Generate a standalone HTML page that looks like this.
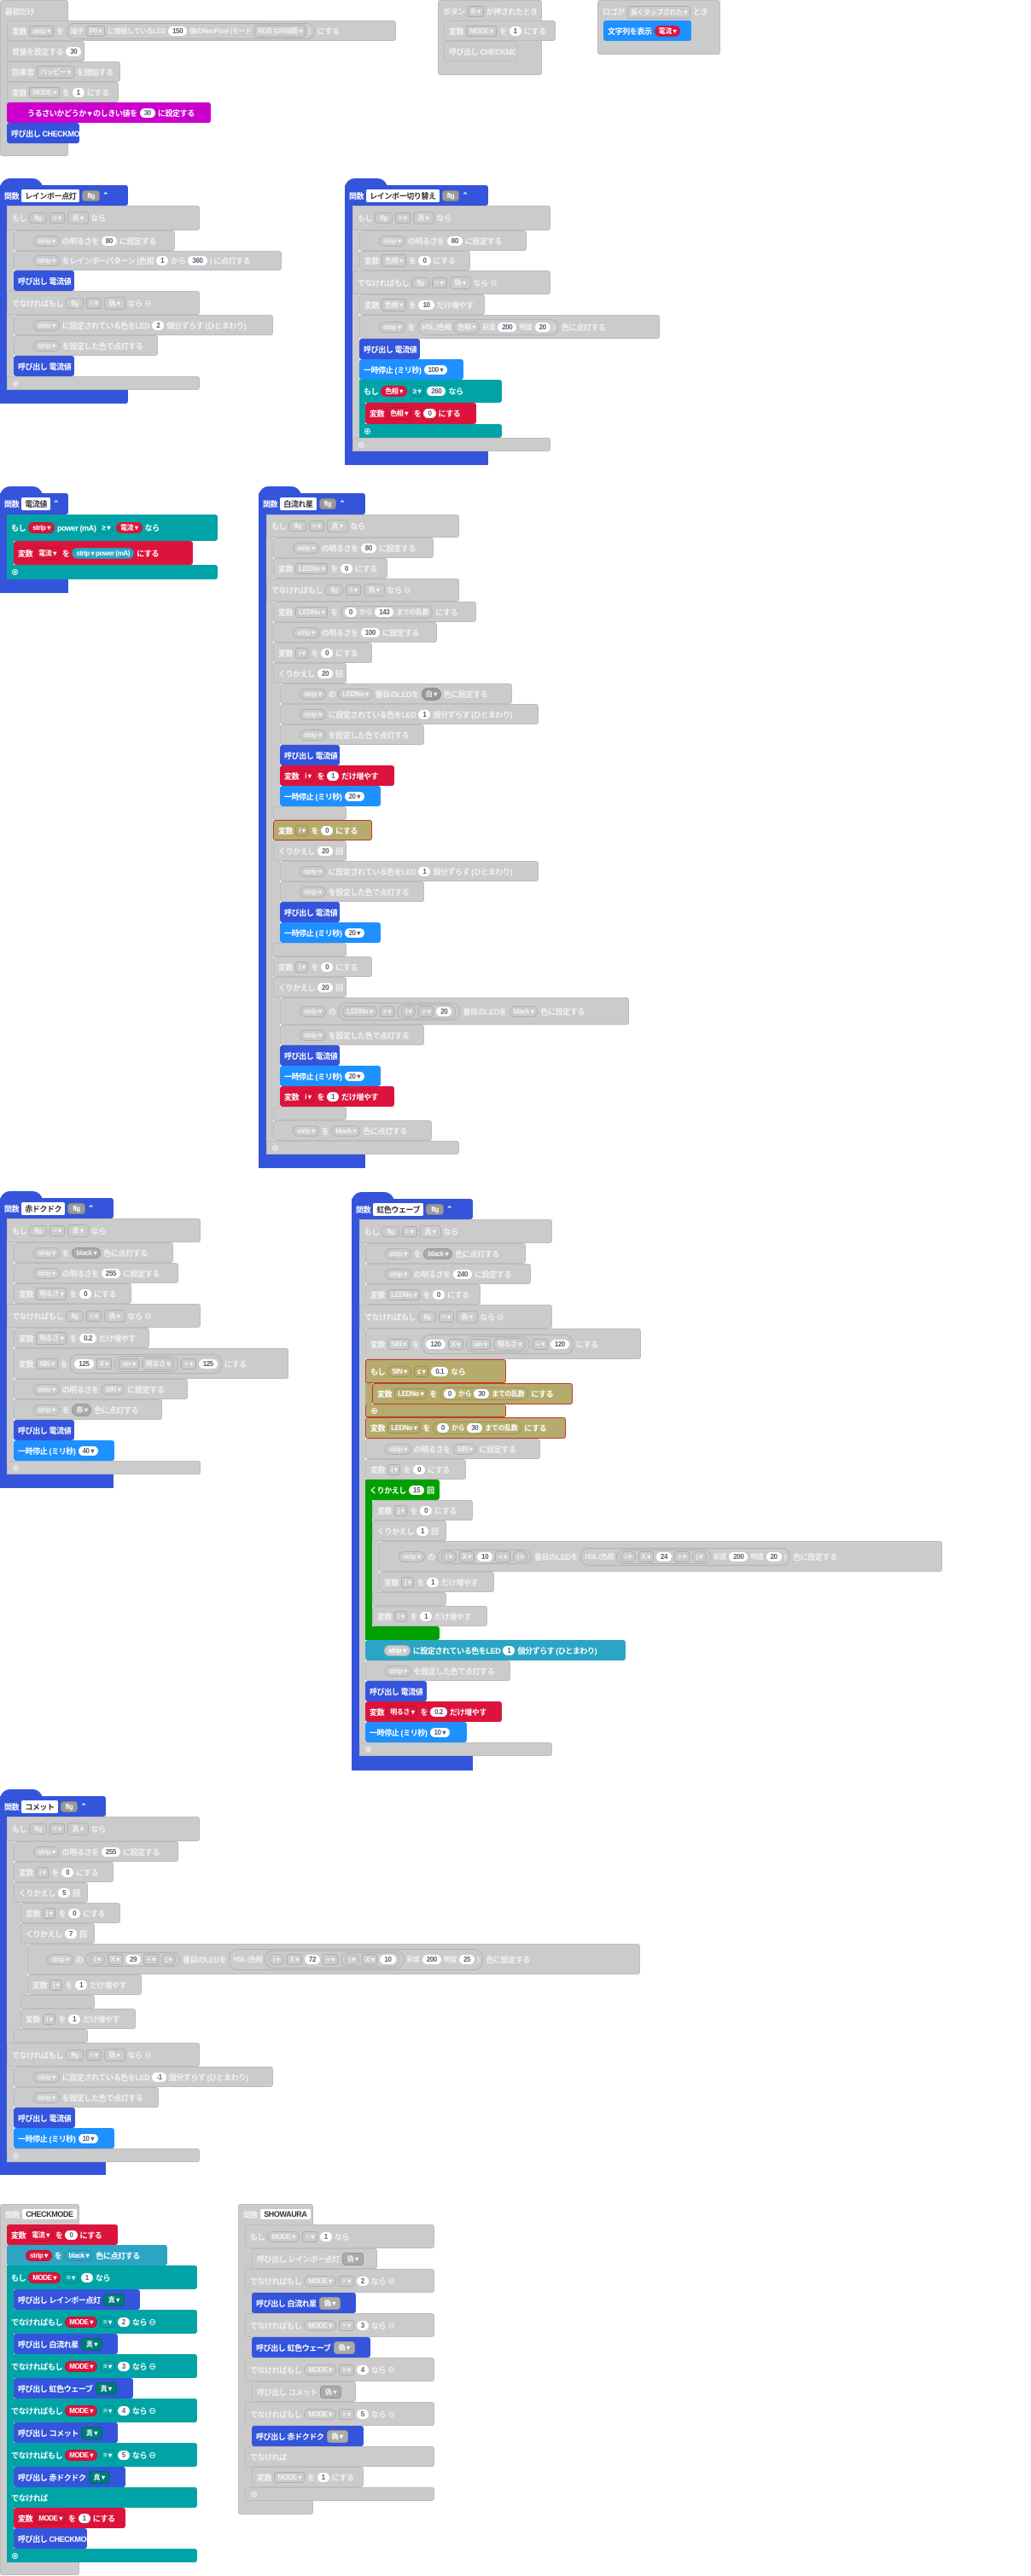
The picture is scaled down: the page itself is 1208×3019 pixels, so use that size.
<!DOCTYPE html>
<html><head><meta charset="utf-8"><style>
html,body{margin:0;padding:0;background:#fff;width:1208px;height:3019px;position:relative;overflow:hidden}
.b{position:absolute;box-sizing:border-box;font:bold 9px "Liberation Sans","Noto Sans CJK JP",sans-serif;letter-spacing:-0.4px;color:#fff;padding-left:5px;display:flex;align-items:center;white-space:nowrap;overflow:hidden;gap:3px;border-radius:3px}
.g{background:#cbcbcb;color:#f2f2f2;border:1px solid #bcbcbc}
.bl{background:#3455db}
.lb{background:#1e90ff}
.r{background:#dc143c}
.t{background:#00a4a6}
.nb{background:#2ca5c4}
.m{background:#cc00cc}
.gr{background:#00a000}
.ol{background:#b6ab6c;border:1px solid #c0392b}
.s{position:absolute;box-sizing:border-box}
.w{background:#fff;color:#575e75;border-radius:9px;padding:1px 5px;font-size:8px}
.d{border:1px solid rgba(0,0,0,.15);border-radius:3px;padding:1px 3px;font-size:8px}
.o{border:1px solid rgba(0,0,0,.12);border-radius:10px;padding:1px 4px;font-size:8px;display:inline-flex;gap:3px;align-items:center}
.hx{border:1px solid rgba(0,0,0,.12);padding:1px 5px;font-size:8px;border-radius:4px}
.hd{background:#fff;color:#333;padding:1px 4px;font-size:9px;border-radius:2px}
.hump{position:absolute;background:#3455db;border-radius:30px 30px 0 0}
</style></head><body>

<!-- Block A -->
<div class="b g" style="left:0;top:0;width:80px;height:183px;align-items:flex-start;padding-top:6px">最初だけ</div>
<div class="b g" style="left:8px;top:24px;width:456px;height:24px">変数 <span class="d">strip ▾</span> を <span class="o">端子 <span class="d">P0 ▾</span> に接続しているLED <span class="w">150</span> 個のNeoPixel (モード <span class="d">RGB (GRB順) ▾</span> )</span> にする</div>
<div class="b g" style="left:8px;top:48px;width:91px;height:24px">音量を設定する <span class="w">30</span></div>
<div class="b g" style="left:8px;top:72px;width:133px;height:24px">効果音 <span class="d">ハッピー ▾</span> を開始する</div>
<div class="b g" style="left:8px;top:96px;width:131px;height:24px">変数 <span class="d">MODE ▾</span> を <span class="w">1</span> にする</div>
<div class="b m" style="left:8px;top:120px;width:239px;height:24px;padding-left:24px">うるさいかどうか ▾ のしきい値を <span class="w">30</span> に設定する</div>
<div class="b bl" style="left:8px;top:144px;width:85px;height:24px">呼び出し CHECKMODE</div>

<!-- Block B -->
<div class="b g" style="left:513px;top:0;width:122px;height:88px;align-items:flex-start;padding-top:6px">ボタン <span class="d">B ▾</span> が押されたとき</div>
<div class="b g" style="left:520px;top:24px;width:131px;height:24px">変数 <span class="d">MODE ▾</span> を <span class="w">1</span> にする</div>
<div class="b g" style="left:520px;top:48px;width:86px;height:24px">呼び出し CHECKMODE</div>

<!-- Block C -->
<div class="b g" style="left:700px;top:0;width:144px;height:64px;align-items:flex-start;padding-top:6px">ロゴが <span class="d">長くタップされた ▾</span> とき</div>
<div class="b lb" style="left:707px;top:24px;width:103px;height:24px">文字列を表示 <span class="w" style="background:#dc143c;color:#fff">電流 ▾</span></div>

<!-- Block D レインボー点灯 -->
<div class="hump" style="left:0;top:209px;width:50px;height:12px"></div>
<div class="s bl" style="left:0;top:217px;width:8px;height:256px"></div>
<div class="s g" style="left:8px;top:241px;width:8px;height:216px;border:0"></div>
<div class="b bl" style="left:0;top:217px;width:150px;height:24px">関数 <span class="hd">レインボー点灯</span> <span class="hx" style="background:#999">flg</span> ⌃</div>
<div class="b g" style="left:8px;top:241px;width:226px;height:29px">もし <span class="hx">flg</span> <span class="d">= ▾</span> <span class="hx">真 ▾</span> なら</div>
<div class="b g" style="left:16px;top:270px;width:189px;height:24px;padding-left:22px"><span class="o">strip ▾</span> の明るさを <span class="w">80</span> に設定する</div>
<div class="b g" style="left:16px;top:294px;width:314px;height:23px;padding-left:22px"><span class="o">strip ▾</span> をレインボーパターン (色相 <span class="w">1</span> から <span class="w">360</span> ) に点灯する</div>
<div class="b bl" style="left:16px;top:317px;width:71px;height:24px">呼び出し 電流値</div>
<div class="b g" style="left:8px;top:341px;width:226px;height:28px">でなければもし <span class="hx">flg</span> <span class="d">= ▾</span> <span class="hx">偽 ▾</span> なら ⊖</div>
<div class="b g" style="left:16px;top:369px;width:304px;height:24px;padding-left:22px"><span class="o">strip ▾</span> に設定されている色をLED <span class="w">2</span> 個分ずらす (ひとまわり)</div>
<div class="b g" style="left:16px;top:393px;width:169px;height:24px;padding-left:22px"><span class="o">strip ▾</span> を設定した色で点灯する</div>
<div class="b bl" style="left:16px;top:417px;width:71px;height:24px">呼び出し 電流値</div>
<div class="b g" style="left:8px;top:441px;width:226px;height:16px">⊕</div>
<div class="s bl" style="left:0;top:457px;width:150px;height:16px;border-radius:0 0 3px 3px"></div>

<!-- Block E レインボー切り替え -->
<div class="hump" style="left:404px;top:209px;width:50px;height:12px"></div>
<div class="s bl" style="left:404px;top:217px;width:9px;height:328px"></div>
<div class="s g" style="left:413px;top:241px;width:8px;height:288px;border:0"></div>
<div class="s t" style="left:421px;top:445px;width:7px;height:68px"></div>
<div class="b bl" style="left:404px;top:217px;width:168px;height:24px">関数 <span class="hd">レインボー切り替え</span> <span class="hx" style="background:#999">flg</span> ⌃</div>
<div class="b g" style="left:413px;top:241px;width:232px;height:29px">もし <span class="hx">flg</span> <span class="d">= ▾</span> <span class="hx">真 ▾</span> なら</div>
<div class="b g" style="left:421px;top:270px;width:196px;height:24px;padding-left:22px"><span class="o">strip ▾</span> の明るさを <span class="w">80</span> に設定する</div>
<div class="b g" style="left:421px;top:294px;width:130px;height:23px">変数 <span class="d">色相 ▾</span> を <span class="w">0</span> にする</div>
<div class="b g" style="left:413px;top:317px;width:232px;height:28px">でなければもし <span class="hx">flg</span> <span class="d">= ▾</span> <span class="hx">偽 ▾</span> なら ⊖</div>
<div class="b g" style="left:421px;top:345px;width:147px;height:24px">変数 <span class="d">色相 ▾</span> を <span class="w">10</span> だけ増やす</div>
<div class="b g" style="left:421px;top:369px;width:352px;height:28px;padding-left:22px"><span class="o">strip ▾</span> を <span class="o">HSL (色相 <span class="o">色相 ▾</span> 彩度 <span class="w">200</span> 明度 <span class="w">20</span> )</span> 色に点灯する</div>
<div class="b bl" style="left:421px;top:397px;width:71px;height:24px">呼び出し 電流値</div>
<div class="b lb" style="left:421px;top:421px;width:122px;height:24px">一時停止 (ミリ秒) <span class="w">100 ▾</span></div>
<div class="b t" style="left:421px;top:445px;width:167px;height:27px">もし <span class="w" style="background:#dc143c;color:#fff">色相 ▾</span> <span class="d">≥ ▾</span> <span class="w">260</span> なら</div>
<div class="b r" style="left:428px;top:472px;width:130px;height:25px">変数 <span class="d">色相 ▾</span> を <span class="w">0</span> にする</div>
<div class="b t" style="left:421px;top:497px;width:167px;height:16px">⊕</div>
<div class="b g" style="left:413px;top:513px;width:232px;height:16px">⊕</div>
<div class="s bl" style="left:404px;top:529px;width:168px;height:16px"></div>

<!-- Block F 電流値 -->
<div class="hump" style="left:0;top:570px;width:50px;height:12px"></div>
<div class="s bl" style="left:0;top:578px;width:8px;height:117px"></div>
<div class="s t" style="left:8px;top:603px;width:8px;height:76px"></div>
<div class="b bl" style="left:0;top:578px;width:80px;height:25px">関数 <span class="hd">電流値</span> ⌃</div>
<div class="b t" style="left:8px;top:603px;width:247px;height:31px">もし <span class="o" style="background:#dc143c">strip ▾</span> power (mA) <span class="d">≥ ▾</span> <span class="w" style="background:#dc143c;color:#fff">電流 ▾</span> なら</div>
<div class="b r" style="left:16px;top:634px;width:210px;height:28px">変数 <span class="d">電流 ▾</span> を <span class="o" style="background:#2ca5c4">strip ▾ power (mA)</span> にする</div>
<div class="b t" style="left:8px;top:662px;width:247px;height:17px">⊕</div>
<div class="s bl" style="left:0;top:679px;width:80px;height:16px"></div>

<!-- Block G 白流れ星 -->
<div class="hump" style="left:303px;top:570px;width:50px;height:12px"></div>
<div class="s bl" style="left:303px;top:578px;width:9px;height:791px"></div>
<div class="s g" style="left:312px;top:603px;width:8px;height:750px;border:0"></div>
<div class="s g" style="left:320px;top:777px;width:8px;height:184px;border:0"></div>
<div class="s g" style="left:320px;top:985px;width:8px;height:136px;border:0"></div>
<div class="s g" style="left:320px;top:1145px;width:8px;height:168px;border:0"></div>
<div class="b bl" style="left:303px;top:578px;width:125px;height:25px">関数 <span class="hd">白流れ星</span> <span class="hx" style="background:#999">flg</span> ⌃</div>
<div class="b g" style="left:312px;top:603px;width:226px;height:27px">もし <span class="hx">flg</span> <span class="d">= ▾</span> <span class="hx">真 ▾</span> なら</div>
<div class="b g" style="left:320px;top:630px;width:188px;height:24px;padding-left:22px"><span class="o">strip ▾</span> の明るさを <span class="w">80</span> に設定する</div>
<div class="b g" style="left:320px;top:654px;width:134px;height:24px">変数 <span class="d">LEDNo ▾</span> を <span class="w">0</span> にする</div>
<div class="b g" style="left:312px;top:678px;width:226px;height:27px">でなければもし <span class="hx">flg</span> <span class="d">= ▾</span> <span class="hx">偽 ▾</span> なら ⊖</div>
<div class="b g" style="left:320px;top:705px;width:238px;height:24px">変数 <span class="d">LEDNo ▾</span> を <span class="o"><span class="w">0</span> から <span class="w">143</span> までの乱数</span> にする</div>
<div class="b g" style="left:320px;top:729px;width:192px;height:24px;padding-left:22px"><span class="o">strip ▾</span> の明るさを <span class="w">100</span> に設定する</div>
<div class="b g" style="left:320px;top:753px;width:116px;height:24px">変数 <span class="d">i ▾</span> を <span class="w">0</span> にする</div>
<div class="b g" style="left:320px;top:777px;width:86px;height:24px">くりかえし <span class="w">20</span> 回</div>
<div class="b g" style="left:328px;top:801px;width:272px;height:24px;padding-left:22px"><span class="o">strip ▾</span> の <span class="o">LEDNo ▾</span> 番目のLEDを <span class="o" style="background:#999">白 ▾</span> 色に設定する</div>
<div class="b g" style="left:328px;top:825px;width:303px;height:24px;padding-left:22px"><span class="o">strip ▾</span> に設定されている色をLED <span class="w">1</span> 個分ずらす (ひとまわり)</div>
<div class="b g" style="left:328px;top:849px;width:169px;height:24px;padding-left:22px"><span class="o">strip ▾</span> を設定した色で点灯する</div>
<div class="b bl" style="left:328px;top:873px;width:70px;height:24px">呼び出し 電流値</div>
<div class="b r" style="left:328px;top:897px;width:134px;height:24px">変数 <span class="d">i ▾</span> を <span class="w">1</span> だけ増やす</div>
<div class="b lb" style="left:328px;top:921px;width:118px;height:24px">一時停止 (ミリ秒) <span class="w">20 ▾</span></div>
<div class="b g" style="left:320px;top:945px;width:86px;height:16px"></div>
<div class="b ol" style="left:320px;top:961px;width:116px;height:24px">変数 <span class="d">i ▾</span> を <span class="w">0</span> にする</div>
<div class="b g" style="left:320px;top:985px;width:86px;height:24px">くりかえし <span class="w">20</span> 回</div>
<div class="b g" style="left:328px;top:1009px;width:303px;height:24px;padding-left:22px"><span class="o">strip ▾</span> に設定されている色をLED <span class="w">1</span> 個分ずらす (ひとまわり)</div>
<div class="b g" style="left:328px;top:1033px;width:169px;height:24px;padding-left:22px"><span class="o">strip ▾</span> を設定した色で点灯する</div>
<div class="b bl" style="left:328px;top:1057px;width:70px;height:24px">呼び出し 電流値</div>
<div class="b lb" style="left:328px;top:1081px;width:118px;height:24px">一時停止 (ミリ秒) <span class="w">20 ▾</span></div>
<div class="b g" style="left:320px;top:1105px;width:86px;height:16px"></div>
<div class="b g" style="left:320px;top:1121px;width:116px;height:24px">変数 <span class="d">i ▾</span> を <span class="w">0</span> にする</div>
<div class="b g" style="left:320px;top:1145px;width:86px;height:24px">くりかえし <span class="w">20</span> 回</div>
<div class="b g" style="left:328px;top:1169px;width:409px;height:32px;padding-left:22px"><span class="o">strip ▾</span> の <span class="o"><span class="o">LEDNo ▾</span> <span class="d">+ ▾</span> <span class="o"><span class="o">i ▾</span> <span class="d">+ ▾</span> <span class="w">20</span></span></span> 番目のLEDを <span class="o">black ▾</span> 色に設定する</div>
<div class="b g" style="left:328px;top:1201px;width:169px;height:24px;padding-left:22px"><span class="o">strip ▾</span> を設定した色で点灯する</div>
<div class="b bl" style="left:328px;top:1225px;width:70px;height:24px">呼び出し 電流値</div>
<div class="b lb" style="left:328px;top:1249px;width:118px;height:24px">一時停止 (ミリ秒) <span class="w">20 ▾</span></div>
<div class="b r" style="left:328px;top:1273px;width:134px;height:24px">変数 <span class="d">i ▾</span> を <span class="w">1</span> だけ増やす</div>
<div class="b g" style="left:320px;top:1297px;width:86px;height:16px"></div>
<div class="b g" style="left:320px;top:1313px;width:186px;height:24px;padding-left:22px"><span class="o">strip ▾</span> を <span class="o">black ▾</span> 色に点灯する</div>
<div class="b g" style="left:312px;top:1337px;width:226px;height:16px">⊕</div>
<div class="s bl" style="left:303px;top:1353px;width:125px;height:16px"></div>

<!-- Block H 赤ドクドク -->
<div class="hump" style="left:0;top:1396px;width:50px;height:12px"></div>
<div class="s bl" style="left:0;top:1404px;width:8px;height:340px"></div>
<div class="s g" style="left:8px;top:1428px;width:8px;height:300px;border:0"></div>
<div class="b bl" style="left:0;top:1404px;width:133px;height:24px">関数 <span class="hd">赤ドクドク</span> <span class="hx" style="background:#999">flg</span> ⌃</div>
<div class="b g" style="left:8px;top:1428px;width:227px;height:28px">もし <span class="hx">flg</span> <span class="d">= ▾</span> <span class="hx">真 ▾</span> なら</div>
<div class="b g" style="left:16px;top:1456px;width:187px;height:24px;padding-left:22px"><span class="o">strip ▾</span> を <span class="o" style="background:#aaa">black ▾</span> 色に点灯する</div>
<div class="b g" style="left:16px;top:1480px;width:193px;height:24px;padding-left:22px"><span class="o">strip ▾</span> の明るさを <span class="w">255</span> に設定する</div>
<div class="b g" style="left:16px;top:1504px;width:138px;height:24px">変数 <span class="d">明るさ ▾</span> を <span class="w">0</span> にする</div>
<div class="b g" style="left:8px;top:1528px;width:227px;height:28px">でなければもし <span class="hx">flg</span> <span class="d">= ▾</span> <span class="hx">偽 ▾</span> なら ⊖</div>
<div class="b g" style="left:16px;top:1556px;width:159px;height:24px">変数 <span class="d">明るさ ▾</span> を <span class="w">0.2</span> だけ増やす</div>
<div class="b g" style="left:16px;top:1580px;width:322px;height:36px">変数 <span class="d">SIN ▾</span> を <span class="o"><span class="w">125</span> <span class="d">X ▾</span> <span class="o"><span class="d">sin ▾</span> <span class="o">明るさ ▾</span></span> <span class="d">+ ▾</span> <span class="w">125</span></span> にする</div>
<div class="b g" style="left:16px;top:1616px;width:204px;height:24px;padding-left:22px"><span class="o">strip ▾</span> の明るさを <span class="o">SIN ▾</span> に設定する</div>
<div class="b g" style="left:16px;top:1640px;width:174px;height:24px;padding-left:22px"><span class="o">strip ▾</span> を <span class="o" style="background:#aaa">赤 ▾</span> 色に点灯する</div>
<div class="b bl" style="left:16px;top:1664px;width:71px;height:24px">呼び出し 電流値</div>
<div class="b lb" style="left:16px;top:1688px;width:118px;height:24px">一時停止 (ミリ秒) <span class="w">40 ▾</span></div>
<div class="b g" style="left:8px;top:1712px;width:227px;height:16px">⊕</div>
<div class="s bl" style="left:0;top:1728px;width:133px;height:16px"></div>

<!-- Block I 虹色ウェーブ -->
<div class="hump" style="left:412px;top:1397px;width:50px;height:12px"></div>
<div class="s bl" style="left:412px;top:1405px;width:9px;height:670px"></div>
<div class="s g" style="left:421px;top:1429px;width:7px;height:629px;border:0"></div>
<div class="s ol" style="left:428px;top:1593px;width:8px;height:68px;border:0"></div>
<div class="s gr" style="left:428px;top:1734px;width:8px;height:188px"></div>
<div class="s g" style="left:436px;top:1782px;width:8px;height:100px;border:0"></div>
<div class="b bl" style="left:412px;top:1405px;width:142px;height:24px">関数 <span class="hd">虹色ウェーブ</span> <span class="hx" style="background:#999">flg</span> ⌃</div>
<div class="b g" style="left:421px;top:1429px;width:226px;height:28px">もし <span class="hx">flg</span> <span class="d">= ▾</span> <span class="hx">真 ▾</span> なら</div>
<div class="b g" style="left:428px;top:1457px;width:188px;height:24px;padding-left:22px"><span class="o">strip ▾</span> を <span class="o" style="background:#aaa">black ▾</span> 色に点灯する</div>
<div class="b g" style="left:428px;top:1481px;width:194px;height:24px;padding-left:22px"><span class="o">strip ▾</span> の明るさを <span class="w">240</span> に設定する</div>
<div class="b g" style="left:428px;top:1505px;width:135px;height:24px">変数 <span class="d">LEDNo ▾</span> を <span class="w">0</span> にする</div>
<div class="b g" style="left:421px;top:1529px;width:226px;height:28px">でなければもし <span class="hx">flg</span> <span class="d">= ▾</span> <span class="hx">偽 ▾</span> なら ⊖</div>
<div class="b g" style="left:428px;top:1557px;width:323px;height:36px">変数 <span class="d">SIN ▾</span> を <span class="o"><span class="w">120</span> <span class="d">X ▾</span> <span class="o"><span class="d">sin ▾</span> <span class="o">明るさ ▾</span></span> <span class="d">+ ▾</span> <span class="w">120</span></span> にする</div>
<div class="b ol" style="left:428px;top:1593px;width:165px;height:28px">もし <span class="o">SIN ▾</span> <span class="d">≤ ▾</span> <span class="w">0.1</span> なら</div>
<div class="b ol" style="left:436px;top:1621px;width:235px;height:25px">変数 <span class="d">LEDNo ▾</span> を <span class="o"><span class="w">0</span> から <span class="w">30</span> までの乱数</span> にする</div>
<div class="b ol" style="left:428px;top:1646px;width:165px;height:15px;border-top:0">⊕</div>
<div class="b ol" style="left:428px;top:1661px;width:235px;height:25px">変数 <span class="d">LEDNo ▾</span> を <span class="o"><span class="w">0</span> から <span class="w">30</span> までの乱数</span> にする</div>
<div class="b g" style="left:428px;top:1686px;width:205px;height:24px;padding-left:22px"><span class="o">strip ▾</span> の明るさを <span class="o">SIN ▾</span> に設定する</div>
<div class="b g" style="left:428px;top:1710px;width:118px;height:24px">変数 <span class="d">i ▾</span> を <span class="w">0</span> にする</div>
<div class="b gr" style="left:428px;top:1734px;width:87px;height:24px">くりかえし <span class="w">15</span> 回</div>
<div class="b g" style="left:436px;top:1758px;width:118px;height:24px">変数 <span class="d">j ▾</span> を <span class="w">0</span> にする</div>
<div class="b g" style="left:436px;top:1782px;width:87px;height:24px">くりかえし <span class="w">1</span> 回</div>
<div class="b g" style="left:444px;top:1806px;width:660px;height:36px;padding-left:22px"><span class="o">strip ▾</span> の <span class="o"><span class="o">i ▾</span> <span class="d">X ▾</span> <span class="w">10</span> <span class="d">+ ▾</span> <span class="o">j ▾</span></span> 番目のLEDを <span class="o">HSL (色相 <span class="o"><span class="o">i ▾</span> <span class="d">X ▾</span> <span class="w">24</span> <span class="d">+ ▾</span> <span class="o">j ▾</span></span> 彩度 <span class="w">200</span> 明度 <span class="w">20</span> )</span> 色に設定する</div>
<div class="b g" style="left:444px;top:1842px;width:135px;height:24px">変数 <span class="d">j ▾</span> を <span class="w">1</span> だけ増やす</div>
<div class="b g" style="left:436px;top:1866px;width:87px;height:16px"></div>
<div class="b g" style="left:436px;top:1882px;width:135px;height:24px">変数 <span class="d">i ▾</span> を <span class="w">1</span> だけ増やす</div>
<div class="b gr" style="left:428px;top:1906px;width:87px;height:16px"></div>
<div class="b nb" style="left:428px;top:1922px;width:305px;height:24px;padding-left:22px"><span class="o" style="background:#ccc">strip ▾</span> に設定されている色をLED <span class="w">1</span> 個分ずらす (ひとまわり)</div>
<div class="b g" style="left:428px;top:1946px;width:170px;height:24px;padding-left:22px"><span class="o">strip ▾</span> を設定した色で点灯する</div>
<div class="b bl" style="left:428px;top:1970px;width:72px;height:24px">呼び出し 電流値</div>
<div class="b r" style="left:428px;top:1994px;width:160px;height:24px">変数 <span class="d">明るさ ▾</span> を <span class="w">0.2</span> だけ増やす</div>
<div class="b lb" style="left:428px;top:2018px;width:119px;height:24px">一時停止 (ミリ秒) <span class="w">10 ▾</span></div>
<div class="b g" style="left:421px;top:2042px;width:226px;height:16px">⊕</div>
<div class="s bl" style="left:412px;top:2058px;width:142px;height:17px"></div>

<!-- Block J コメット -->
<div class="hump" style="left:0;top:2097px;width:50px;height:12px"></div>
<div class="s bl" style="left:0;top:2105px;width:8px;height:444px"></div>
<div class="s g" style="left:8px;top:2129px;width:8px;height:405px;border:0"></div>
<div class="s g" style="left:16px;top:2206px;width:8px;height:188px;border:0"></div>
<div class="s g" style="left:24px;top:2254px;width:8px;height:100px;border:0"></div>
<div class="b bl" style="left:0;top:2105px;width:124px;height:24px">関数 <span class="hd">コメット</span> <span class="hx" style="background:#999">flg</span> ⌃</div>
<div class="b g" style="left:8px;top:2129px;width:226px;height:29px">もし <span class="hx">flg</span> <span class="d">= ▾</span> <span class="hx">真 ▾</span> なら</div>
<div class="b g" style="left:16px;top:2158px;width:193px;height:24px;padding-left:22px"><span class="o">strip ▾</span> の明るさを <span class="w">255</span> に設定する</div>
<div class="b g" style="left:16px;top:2182px;width:117px;height:24px">変数 <span class="d">i ▾</span> を <span class="w">0</span> にする</div>
<div class="b g" style="left:16px;top:2206px;width:87px;height:24px">くりかえし <span class="w">5</span> 回</div>
<div class="b g" style="left:24px;top:2230px;width:117px;height:24px">変数 <span class="d">j ▾</span> を <span class="w">0</span> にする</div>
<div class="b g" style="left:24px;top:2254px;width:87px;height:24px">くりかえし <span class="w">7</span> 回</div>
<div class="b g" style="left:32px;top:2278px;width:718px;height:36px;padding-left:22px"><span class="o">strip ▾</span> の <span class="o"><span class="o">i ▾</span> <span class="d">X ▾</span> <span class="w">29</span> <span class="d">+ ▾</span> <span class="o">j ▾</span></span> 番目のLEDを <span class="o">HSL (色相 <span class="o"><span class="o">i ▾</span> <span class="d">X ▾</span> <span class="w">72</span> <span class="d">+ ▾</span> <span class="o"><span class="o">j ▾</span> <span class="d">X ▾</span> <span class="w">10</span></span></span> 彩度 <span class="w">200</span> 明度 <span class="w">25</span> )</span> 色に設定する</div>
<div class="b g" style="left:32px;top:2314px;width:134px;height:24px">変数 <span class="d">j ▾</span> を <span class="w">1</span> だけ増やす</div>
<div class="b g" style="left:24px;top:2338px;width:87px;height:16px"></div>
<div class="b g" style="left:24px;top:2354px;width:135px;height:24px">変数 <span class="d">i ▾</span> を <span class="w">1</span> だけ増やす</div>
<div class="b g" style="left:16px;top:2378px;width:87px;height:16px"></div>
<div class="b g" style="left:8px;top:2394px;width:226px;height:28px">でなければもし <span class="hx">flg</span> <span class="d">= ▾</span> <span class="hx">偽 ▾</span> なら ⊖</div>
<div class="b g" style="left:16px;top:2422px;width:304px;height:24px;padding-left:22px"><span class="o">strip ▾</span> に設定されている色をLED <span class="w">-1</span> 個分ずらす (ひとまわり)</div>
<div class="b g" style="left:16px;top:2446px;width:170px;height:24px;padding-left:22px"><span class="o">strip ▾</span> を設定した色で点灯する</div>
<div class="b bl" style="left:16px;top:2470px;width:72px;height:24px">呼び出し 電流値</div>
<div class="b lb" style="left:16px;top:2494px;width:118px;height:24px">一時停止 (ミリ秒) <span class="w">10 ▾</span></div>
<div class="b g" style="left:8px;top:2518px;width:226px;height:16px">⊕</div>
<div class="s bl" style="left:0;top:2534px;width:124px;height:15px"></div>

<!-- Block K CHECKMODE -->
<div class="b g" style="left:0;top:2583px;width:93px;height:435px;align-items:flex-start;padding-top:5px">関数 <span class="hd">CHECKMODE</span> ⌃</div>
<div class="s t" style="left:8px;top:2655px;width:8px;height:348px"></div>
<div class="b r" style="left:8px;top:2607px;width:130px;height:24px">変数 <span class="d">電流 ▾</span> を <span class="w">0</span> にする</div>
<div class="b nb" style="left:8px;top:2631px;width:188px;height:24px;padding-left:22px"><span class="o" style="background:#dc143c">strip ▾</span> を <span class="o">black ▾</span> 色に点灯する</div>
<div class="b t" style="left:8px;top:2655px;width:223px;height:28px">もし <span class="o" style="background:#dc143c">MODE ▾</span> <span class="d">= ▾</span> <span class="w">1</span> なら</div>
<div class="b bl" style="left:16px;top:2683px;width:148px;height:24px">呼び出し レインボー点灯 <span class="hx" style="background:#007a7a">真 ▾</span></div>
<div class="b t" style="left:8px;top:2707px;width:223px;height:28px">でなければもし <span class="o" style="background:#dc143c">MODE ▾</span> <span class="d">= ▾</span> <span class="w">2</span> なら ⊖</div>
<div class="b bl" style="left:16px;top:2735px;width:122px;height:24px">呼び出し 白流れ星 <span class="hx" style="background:#007a7a">真 ▾</span></div>
<div class="b t" style="left:8px;top:2759px;width:223px;height:28px">でなければもし <span class="o" style="background:#dc143c">MODE ▾</span> <span class="d">= ▾</span> <span class="w">3</span> なら ⊖</div>
<div class="b bl" style="left:16px;top:2787px;width:140px;height:24px">呼び出し 虹色ウェーブ <span class="hx" style="background:#007a7a">真 ▾</span></div>
<div class="b t" style="left:8px;top:2811px;width:223px;height:28px">でなければもし <span class="o" style="background:#dc143c">MODE ▾</span> <span class="d">= ▾</span> <span class="w">4</span> なら ⊖</div>
<div class="b bl" style="left:16px;top:2839px;width:122px;height:24px">呼び出し コメット <span class="hx" style="background:#007a7a">真 ▾</span></div>
<div class="b t" style="left:8px;top:2863px;width:223px;height:28px">でなければもし <span class="o" style="background:#dc143c">MODE ▾</span> <span class="d">= ▾</span> <span class="w">5</span> なら ⊖</div>
<div class="b bl" style="left:16px;top:2891px;width:131px;height:24px">呼び出し 赤ドクドク <span class="hx" style="background:#007a7a">真 ▾</span></div>
<div class="b t" style="left:8px;top:2915px;width:223px;height:24px">でなければ</div>
<div class="b r" style="left:16px;top:2939px;width:131px;height:24px">変数 <span class="d">MODE ▾</span> を <span class="w">1</span> にする</div>
<div class="b bl" style="left:16px;top:2963px;width:86px;height:24px">呼び出し CHECKMODE</div>
<div class="b t" style="left:8px;top:2987px;width:223px;height:16px">⊕</div>

<!-- Block L SHOWAURA -->
<div class="b g" style="left:279px;top:2583px;width:88px;height:364px;align-items:flex-start;padding-top:5px">関数 <span class="hd">SHOWAURA</span> ⌃</div>
<div class="s g" style="left:287px;top:2607px;width:8px;height:324px;border:0"></div>
<div class="b g" style="left:287px;top:2607px;width:222px;height:28px">もし <span class="o">MODE ▾</span> <span class="d">= ▾</span> <span class="w">1</span> なら</div>
<div class="b g" style="left:295px;top:2635px;width:147px;height:24px">呼び出し レインボー点灯 <span class="hx" style="background:#aaa">偽 ▾</span></div>
<div class="b g" style="left:287px;top:2659px;width:222px;height:28px">でなければもし <span class="o">MODE ▾</span> <span class="d">= ▾</span> <span class="w">2</span> なら ⊖</div>
<div class="b bl" style="left:295px;top:2687px;width:122px;height:24px">呼び出し 白流れ星 <span class="hx" style="background:#aaa">偽 ▾</span></div>
<div class="b g" style="left:287px;top:2711px;width:222px;height:28px">でなければもし <span class="o">MODE ▾</span> <span class="d">= ▾</span> <span class="w">3</span> なら ⊖</div>
<div class="b bl" style="left:295px;top:2739px;width:139px;height:24px">呼び出し 虹色ウェーブ <span class="hx" style="background:#aaa">偽 ▾</span></div>
<div class="b g" style="left:287px;top:2763px;width:222px;height:28px">でなければもし <span class="o">MODE ▾</span> <span class="d">= ▾</span> <span class="w">4</span> なら ⊖</div>
<div class="b g" style="left:295px;top:2791px;width:122px;height:24px">呼び出し コメット <span class="hx" style="background:#aaa">偽 ▾</span></div>
<div class="b g" style="left:287px;top:2815px;width:222px;height:28px">でなければもし <span class="o">MODE ▾</span> <span class="d">= ▾</span> <span class="w">5</span> なら ⊖</div>
<div class="b bl" style="left:295px;top:2843px;width:131px;height:24px">呼び出し 赤ドクドク <span class="hx" style="background:#aaa">偽 ▾</span></div>
<div class="b g" style="left:287px;top:2867px;width:222px;height:24px">でなければ</div>
<div class="b g" style="left:295px;top:2891px;width:131px;height:24px">変数 <span class="d">MODE ▾</span> を <span class="w">1</span> にする</div>
<div class="b g" style="left:287px;top:2915px;width:222px;height:16px">⊕</div>

</body></html>
